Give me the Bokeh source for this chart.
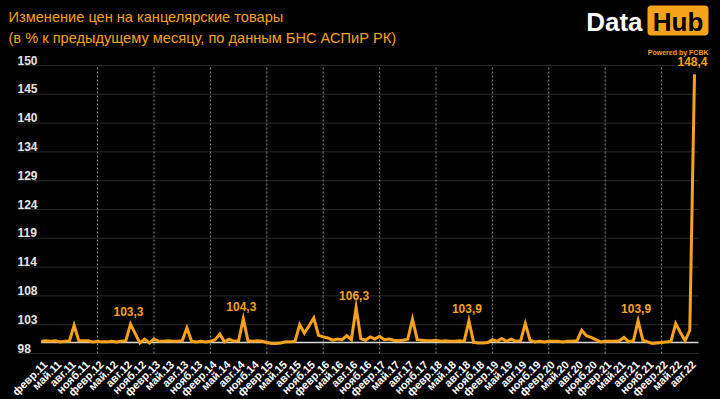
import math
from bokeh.plotting import figure
from bokeh.models import (ColumnDataSource, Range1d, LabelSet, Label,
                          BoxAnnotation, GlobalInlineStyleSheet)
from bokeh.core.properties import value
from bokeh.embed import file_html
from bokeh.resources import INLINE

TITLE_1 = "Изменение цен на канцелярские товары"
TITLE_2 = "(в % к предыдущему месяцу, по данным БНС АСПиР РК)"

# monthly values, Feb 2011 .. Sep 2022 (% to previous month)
V2011 = [100.2, 100.3, 100.2, 100.3, 100.1, 100.2, 100.2, 103.1, 100.3, 100.3, 100.3]
V2012 = [100.1, 100.2, 100.1, 100.1, 100.2, 100.1, 100.2, 100.3, 103.3, 101.6, 99.9, 100.6]
V2013 = [99.9, 100.6, 100.2, 100.2, 100.3, 100.2, 100.2, 100.3, 102.6, 100.2, 100.1, 100.2]
V2014 = [100.1, 100.2, 100.5, 101.5, 100.1, 100.6, 100.2, 100.3, 104.3, 100.3, 100.2, 100.3]
V2015 = [100.2, 100.0, 99.8, 99.8, 99.9, 100.1, 100.1, 100.2, 103.2, 101.7, 103.0, 104.4]
V2016 = [101.3, 101.0, 100.8, 100.4, 100.6, 100.5, 101.2, 100.5, 106.3, 100.7, 100.4, 101.0]
V2017 = [100.6, 101.1, 100.5, 100.6, 100.4, 100.3, 100.4, 100.6, 104.2, 100.5, 100.4, 100.3]
V2018 = [100.3, 100.4, 100.2, 100.3, 100.2, 100.2, 100.3, 100.2, 103.9, 100.0, 99.9, 99.9]
V2019 = [100.0, 100.5, 100.2, 100.7, 100.2, 100.6, 100.2, 100.3, 103.4, 100.4, 100.1, 100.2]
V2020 = [100.1, 100.2, 100.2, 100.2, 100.1, 100.2, 100.2, 100.3, 102.2, 101.2, 100.9, 100.5]
V2021 = [100.1, 100.2, 100.2, 100.2, 100.3, 100.9, 100.1, 100.3, 103.9, 100.4, 100.1, 99.8]
V2022 = [99.9, 100.0, 100.1, 100.2, 103.4, 101.8, 100.3, 102.2, 148.4]
VALUES = V2011 + V2012 + V2013 + V2014 + V2015 + V2016 + V2017 + V2018 + V2019 + V2020 + V2021 + V2022

X_LABELS = [
    "февр.11", "май.11", "авг.11", "нояб.11",
    "февр.12", "май.12", "авг.12", "нояб.12",
    "февр.13", "май.13", "авг.13", "нояб.13",
    "февр.14", "май.14", "авг.14", "нояб.14",
    "февр.15", "май.15", "авг.15", "нояб.15",
    "февр.16", "май.16", "авг.16", "нояб.16",
    "февр.17", "май.17", "авг.17", "нояб.17",
    "февр.18", "май.18", "авг.18", "нояб.18",
    "февр.19", "май.19", "авг.19", "нояб.19",
    "февр.20", "май.20", "авг.20", "нояб.20",
    "февр.21", "май.21", "авг.21", "нояб.21",
    "февр.22", "май.22", "авг.22",
]
LABEL_STEP = 3  # one label every 3 months
Y_TICKS = [98, 103.2, 108.4, 113.6, 118.8, 124, 129.2, 134.4, 139.6, 144.8, 150]
Y_LABELS = ["98", "103", "108", "114", "119", "124", "129", "134", "140", "145", "150"]
ANNOTATED = [19, 43, 67, 91, 127, 139]  # indices of months with value labels
REF_LEVEL = 100

ORANGE = "#F7A21B"
FONT = "Liberation Sans"

W, H = 720, 399
# plot area of the chart (pixels): the frame covers the whole canvas so that
# every text can be drawn; the chart area is mapped through the ranges.
PX_LEFT, PX_RIGHT, PX_TOP, PX_BOTTOM = 17, 698, 65, 353
PX_FIRST, PX_STEP = 40.7, 4.70

x = list(range(len(VALUES)))
x_ticks = [i * LABEL_STEP for i in range(len(X_LABELS))]
feb_ticks = [t for t, lab in zip(x_ticks, X_LABELS) if lab.startswith("февр") and t > 0]
y_min, y_max = Y_TICKS[0], Y_TICKS[-1]
y_per_px = (y_max - y_min) / (PX_BOTTOM - PX_TOP)

x_lo = (PX_LEFT - PX_FIRST) / PX_STEP
x_hi = (PX_RIGHT - PX_FIRST) / PX_STEP
xr = Range1d(-PX_FIRST / PX_STEP, (W - PX_FIRST) / PX_STEP)
yr = Range1d(y_min - (H - PX_BOTTOM) * y_per_px, y_max + PX_TOP * y_per_px)

p = figure(width=W, height=H, x_range=xr, y_range=yr,
           output_backend="svg", toolbar_location=None,
           min_border_left=0, min_border_right=0, min_border_top=0, min_border_bottom=0)
p.background_fill_color = "#000000"
p.border_fill_color = "#000000"
p.outline_line_color = None
p.stylesheets = [GlobalInlineStyleSheet(css="body { background: #000000; }")]
p.xaxis.visible = False
p.yaxis.visible = False
p.xgrid.visible = False
p.ygrid.visible = False

# horizontal grid lines at the y ticks
p.segment(x0=[x_lo] * len(Y_TICKS), y0=Y_TICKS, x1=[x_hi] * len(Y_TICKS), y1=Y_TICKS,
          line_color="#2a2a2a", line_width=1)
# dashed vertical lines at each February
p.segment(x0=feb_ticks, y0=[y_min] * len(feb_ticks), x1=feb_ticks, y1=[y_max] * len(feb_ticks),
          line_color="#8c8c8c", line_width=1, line_dash="2 2")

# reference line at 100 and the data line
p.segment(x0=[x[0]], y0=[REF_LEVEL], x1=[x_hi], y1=[REF_LEVEL], line_color="#dcdcdc", line_width=1.5)
p.line(x, VALUES, line_color=ORANGE, line_width=3, line_join="miter")

# y tick labels (left aligned, sitting on their grid lines)
ysrc = ColumnDataSource(dict(x=[x_lo] * len(Y_TICKS), y=Y_TICKS, text=Y_LABELS))
p.add_layout(LabelSet(x="x", y="y", text="text", source=ysrc, x_offset=0, y_offset=1,
                      text_align="left", text_baseline="alphabetic", text_color="#e6e6e6",
                      text_font=value(FONT), text_font_style="bold", text_font_size="12px"))

# x tick labels (rotated 45 degrees, ending at the tick)
xsrc = ColumnDataSource(dict(x=x_ticks, y=[y_min] * len(x_ticks), text=X_LABELS))
p.add_layout(LabelSet(x="x", y="y", text="text", source=xsrc, x_offset=4, y_offset=-9,
                      angle=math.pi / 4, text_align="right", text_baseline="middle",
                      text_color="#ffffff", text_font=value(FONT), text_font_style="bold",
                      text_font_size="11px"))

# value labels
lab_src = ColumnDataSource(dict(
    x=ANNOTATED,
    y=[VALUES[i] for i in ANNOTATED],
    text=[f"{VALUES[i]:.1f}".replace(".", ",") for i in ANNOTATED],
))
p.add_layout(LabelSet(x="x", y="y", text="text", source=lab_src, x_offset=-2, y_offset=8,
                      text_align="center", text_baseline="bottom", text_color=ORANGE,
                      text_font=value(FONT), text_font_style="bold", text_font_size="12px"))

# header texts, placed in screen pixels (frame == canvas, y measured upward)
def add_text(txt, cx, cy, **kw):
    p.add_layout(Label(x=cx, y=H - cy, x_units="screen", y_units="screen",
                       text=txt, text_font=FONT, **kw))

add_text(TITLE_1, 8, 16, text_color=ORANGE, text_font_size="14.6px", text_baseline="middle")
add_text(TITLE_2, 8, 37, text_color=ORANGE, text_font_size="14.6px", text_baseline="middle")
add_text("Data", 642, 21, text_color="#ffffff", text_font_size="26px", text_font_style="bold",
         text_align="right", text_baseline="middle")
p.add_layout(BoxAnnotation(left=647, right=708, top=H - 5, bottom=H - 35,
                           left_units="screen", right_units="screen", top_units="screen",
                           bottom_units="screen", fill_color=ORANGE, fill_alpha=1.0,
                           line_color=None, border_radius=4))
add_text("Hub", 677.5, 21, text_color="#000000", text_font_size="26px", text_font_style="bold",
         text_align="center", text_baseline="middle")
add_text("Powered by FCBK", 708, 51.5, text_color=ORANGE, text_font_size="7px", text_font_style="bold",
         text_align="right", text_baseline="middle")

open("out.html", "w").write(file_html(p, INLINE))
